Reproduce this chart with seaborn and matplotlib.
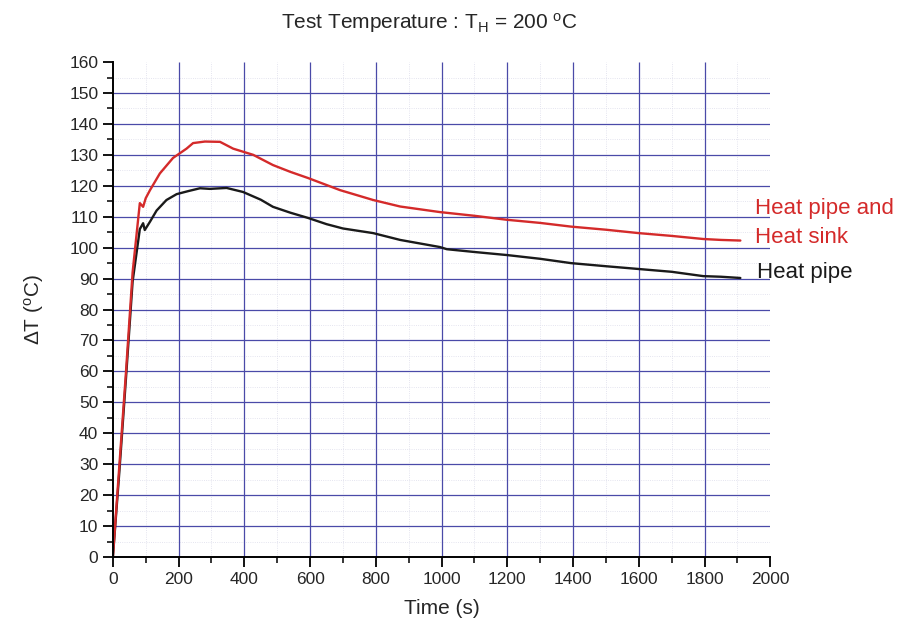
import numpy as np
import pandas as pd
import seaborn as sns
import matplotlib.pyplot as plt
from matplotlib.ticker import MultipleLocator

# readings
time_pipe = [0, 20, 40, 60, 82, 92, 97, 113, 133, 163, 194, 230, 265, 295, 346, 396,
             450, 487, 540, 594, 650, 700, 792, 874, 995, 1016, 1100, 1200, 1300,
             1394, 1500, 1600, 1700, 1796, 1850, 1909]
dt_pipe = [0, 28, 58, 89, 106, 107.9, 105.7, 108.4, 112, 115.4, 117.3, 118.3, 119.2,
           119, 119.3, 118, 115.5, 113.2, 111.3, 109.6, 107.6, 106.2, 104.7, 102.5,
           100.2, 99.5, 98.6, 97.6, 96.4, 95, 94, 93.1, 92.2, 90.8, 90.6, 90.2]

time_sink = [0, 20, 40, 60, 82, 92, 100, 113, 143, 183, 224, 244, 280, 326, 366, 427,
             487, 540, 594, 691, 792, 874, 995, 1100, 1200, 1300, 1394, 1500,
             1600, 1700, 1796, 1850, 1909]
dt_sink = [0, 30, 60, 92, 114.4, 113.2, 116, 118.6, 124, 129, 132, 133.8, 134.3,
           134.2, 132, 130, 126.7, 124.5, 122.5, 118.6, 115.4, 113.3, 111.5,
           110.3, 109, 108, 106.8, 105.8, 104.7, 103.8, 102.8, 102.5, 102.3]

series_names = ["Heat pipe", "Heat pipe and\nHeat sink"]
series_colors = ["#1a1a1a", "#d42a2a"]

df = pd.concat([
    pd.DataFrame({"time": time_pipe, "dT": dt_pipe, "series": series_names[0]}),
    pd.DataFrame({"time": time_sink, "dT": dt_sink, "series": series_names[1]}),
])

sns.set_style("white")
plt.rcParams["font.family"] = ["Liberation Sans", "DejaVu Sans"]
plt.rcParams["mathtext.fontset"] = "custom"
plt.rcParams["mathtext.rm"] = "Liberation Sans"
plt.rcParams["mathtext.it"] = "Liberation Sans"

fig = plt.figure(figsize=(9.03, 6.33), dpi=100)
ax = fig.add_axes([0.125, 0.12, 0.728, 0.782])

sns.lineplot(
    data=df,
    x="time",
    y="dT",
    hue="series",
    palette=dict(zip(series_names, series_colors)),
    linewidth=1.7,
    legend=False,
    ax=ax,
    zorder=3
)

x_max, y_max = 2000, 160
ax.set_xlim(0, x_max)
ax.set_ylim(0, y_max)
ax.xaxis.set_major_locator(MultipleLocator(200))
ax.xaxis.set_minor_locator(MultipleLocator(100))
ax.yaxis.set_major_locator(MultipleLocator(10))
ax.yaxis.set_minor_locator(MultipleLocator(5))

# grid: solid at the major steps, faint dotted at the minor steps,
# nothing along the top (160) and right (2000) edges
ax.grid(False)
ax.hlines(np.arange(5, y_max, 10), 0, x_max, color="#dcdcea", linewidth=0.6,
          linestyle=":", zorder=1)
ax.vlines(np.arange(100, x_max, 200), 0, y_max, color="#dcdcea", linewidth=0.6,
          linestyle=":", zorder=1)
ax.hlines(np.arange(10, y_max, 10), 0, x_max, color="#4a4aa8", linewidth=0.9, zorder=2)
ax.vlines(np.arange(200, x_max, 200), 0, y_max, color="#4a4aa8", linewidth=0.9, zorder=2)

for side in ["top", "right"]:
    ax.spines[side].set_visible(False)
for side in ["left", "bottom"]:
    ax.spines[side].set_color("black")
    ax.spines[side].set_linewidth(1.4)
    ax.spines[side].set_zorder(4)

ax.tick_params(which="major", direction="out", length=7, width=1.3, labelsize=12.5,
               left=True, bottom=True, color="black")
ax.tick_params(which="minor", direction="out", length=4, width=1.1,
               left=True, bottom=True, color="black")

ax.set_xlabel("Time (s)", fontsize=15, labelpad=9)
ax.set_ylabel(r"$\Delta$T ($^\mathrm{o}$C)", fontsize=15, labelpad=17)

ax.set_title(r"Test Temperature : T$_\mathrm{H}$ = 200 $^\mathrm{o}$C",
             fontsize=15, pad=24, x=0.482)

ax.text(1954, 108, "Heat pipe and\nHeat sink", color=series_colors[1],
        fontsize=16, va="center", ha="left", linespacing=1.45, clip_on=False)
ax.text(1960, 92, "Heat pipe", color=series_colors[0], fontsize=16,
        va="center", ha="left", clip_on=False)

plt.savefig("out.png", dpi=100)
